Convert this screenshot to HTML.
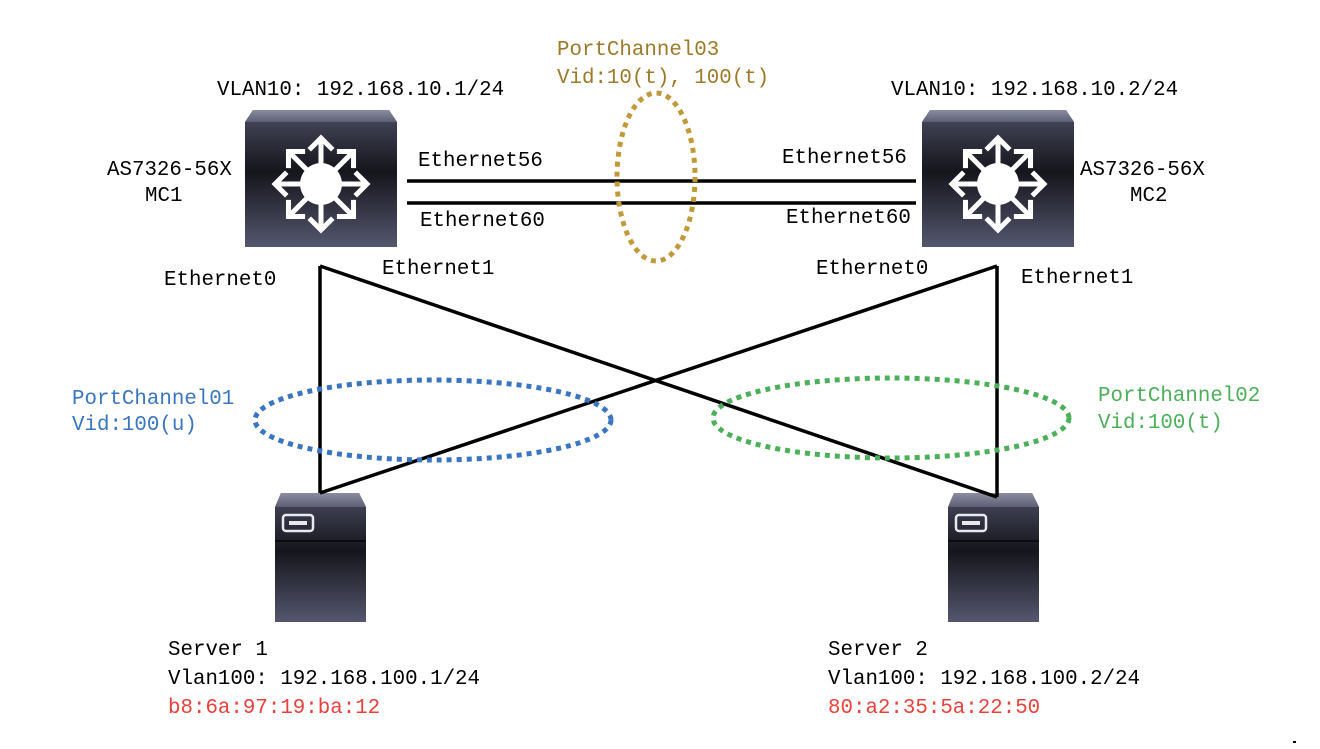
<!DOCTYPE html>
<html><head><meta charset="utf-8"><style>
body{margin:0;background:#fff}
text{font-family:"Liberation Mono",monospace;font-size:20.8px}
</style></head><body>
<svg width="1320" height="744" viewBox="0 0 1320 744" xmlns="http://www.w3.org/2000/svg">
<defs>
<linearGradient id="sw" x1="0" y1="0" x2="0" y2="1">
<stop offset="0" stop-color="#4a4c62"/><stop offset="0.45" stop-color="#15151c"/><stop offset="1" stop-color="#54576e"/>
</linearGradient>
<linearGradient id="top" x1="0" y1="0" x2="0" y2="1">
<stop offset="0" stop-color="#8a8ca0"/><stop offset="1" stop-color="#5d6075"/>
</linearGradient>
<g id="switch">
<path d="M8,0 H144 L152,12 V137 H0 V12 Z" fill="url(#sw)"/>
<path d="M8,0 H144 L152,12 H0 Z" fill="url(#top)"/>
<g stroke="#fff" stroke-width="5" fill="none" stroke-linecap="square">
<g id="arm"><path d="M76,74 V30 M66,38 L76,28 L86,38"/></g>
<use href="#arm" transform="rotate(45 76 74)"/><use href="#arm" transform="rotate(90 76 74)"/>
<use href="#arm" transform="rotate(135 76 74)"/><use href="#arm" transform="rotate(180 76 74)"/>
<use href="#arm" transform="rotate(225 76 74)"/><use href="#arm" transform="rotate(270 76 74)"/>
<use href="#arm" transform="rotate(315 76 74)"/>
</g>
<circle cx="76" cy="74" r="21" fill="#fff"/>
</g>
<g id="server">
<path d="M6,0 H84 L91,14 V129 H0 V14 Z" fill="url(#sw)"/>
<path d="M6,0 H84 L91,14 H0 Z" fill="url(#top)"/>
<line x1="0" y1="48" x2="91" y2="48" stroke="#0c0c10" stroke-width="2"/>
<rect x="8" y="22" width="30" height="16" rx="3" fill="none" stroke="#e8e8ee" stroke-width="2.5"/>
<rect x="14" y="28" width="18" height="4" fill="#e8e8ee"/>
</g>
</defs>
<use href="#switch" x="245" y="110"/>
<use href="#switch" x="922" y="110"/>
<use href="#server" x="275" y="493"/>
<use href="#server" x="948" y="493"/>
<g stroke="#000" stroke-width="3.5" fill="none">
<line x1="407" y1="181" x2="916" y2="181"/>
<line x1="407" y1="203" x2="916" y2="203"/>
<line x1="320" y1="266" x2="320" y2="493"/>
<line x1="320" y1="266" x2="997" y2="497"/>
<line x1="320" y1="493" x2="997" y2="266"/>
<line x1="997" y1="266" x2="997" y2="497"/>
</g>
<g fill="none" stroke-width="5" stroke-dasharray="5 5">
<ellipse cx="656" cy="177" rx="39" ry="84" stroke="#c09a3a"/>
<ellipse cx="433" cy="420" rx="178" ry="40" stroke="#3a75c0"/>
<ellipse cx="891" cy="418" rx="178" ry="40" stroke="#4caf5a"/>
</g>
<g fill="#000">
<text x="217" y="95">VLAN10: 192.168.10.1/24</text>
<text x="891" y="95">VLAN10: 192.168.10.2/24</text>
<text x="107" y="175">AS7326-56X</text><text x="145" y="201">MC1</text>
<text x="1080" y="175">AS7326-56X</text><text x="1130" y="201">MC2</text>
<text x="418" y="166">Ethernet56</text>
<text x="420" y="226">Ethernet60</text>
<text x="782" y="163">Ethernet56</text>
<text x="786" y="223">Ethernet60</text>
<text x="164" y="285">Ethernet0</text>
<text x="382" y="274">Ethernet1</text>
<text x="816" y="274">Ethernet0</text>
<text x="1021" y="283">Ethernet1</text>
<text x="168" y="655">Server 1</text>
<text x="168" y="684">Vlan100: 192.168.100.1/24</text>
<text x="828" y="655">Server 2</text>
<text x="828" y="684">Vlan100: 192.168.100.2/24</text>
</g>
<text x="557" y="55" fill="#9c7a2a">PortChannel03</text>
<text x="557" y="83" fill="#9c7a2a">Vid:10(t), 100(t)</text>
<text x="72" y="404" fill="#3a75c0">PortChannel01</text>
<text x="72" y="430" fill="#3a75c0">Vid:100(u)</text>
<text x="1098" y="401" fill="#4caf5a">PortChannel02</text>
<text x="1098" y="428" fill="#4caf5a">Vid:100(t)</text>
<text x="168" y="713" fill="#e8403a">b8:6a:97:19:ba:12</text>
<text x="828" y="713" fill="#e8403a">80:a2:35:5a:22:50</text>
<rect x="1293" y="741" width="3" height="2" fill="#000"/>
</svg>
</body></html>
